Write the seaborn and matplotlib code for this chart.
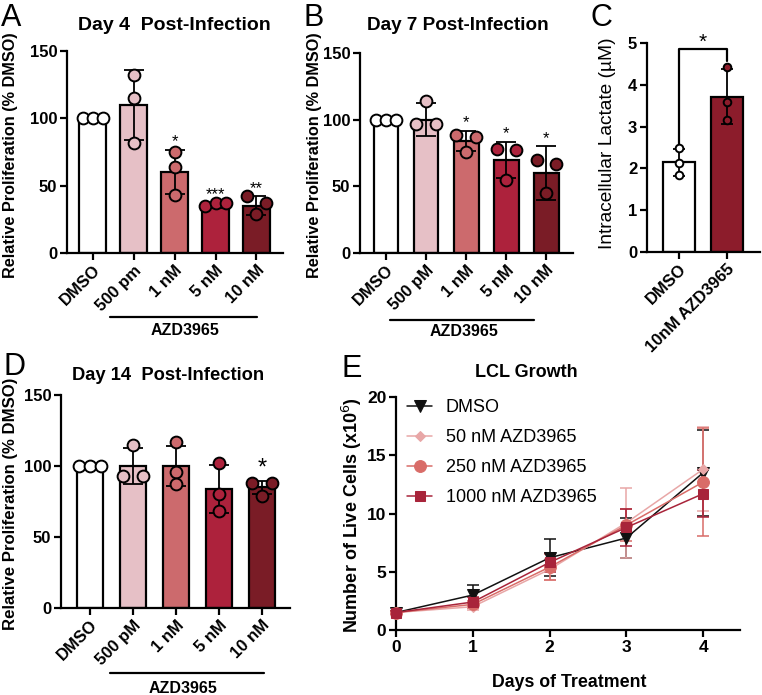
import numpy as np
import pandas as pd
import seaborn as sns
import matplotlib
matplotlib.use("Agg")
import matplotlib.pyplot as plt
import matplotlib.transforms as mtransforms

# ---------------- data ----------------
cats_A = ['DMSO', '500 pm', '1 nM', '5 nM', '10 nM']
mean_A = [100, 110, 60, 35, 35]
sd_A = [np.nan, 26, 16.5, 1.5, 7]
pts_A = [[100, 100, 100], [132, 115, 82], [75, 64, 43], [35, 37, 37], [42, 29, 37]]
sig_A = ['', '', '*', '***', '**']

cats_B = ['DMSO', '500 pM', '1 nM', '5 nM', '10 nM']
mean_B = [100, 100, 84, 70, 60]
sd_B = [np.nan, 12.5, 7.5, 13.5, 20]
pts_B = [[100, 100, 100], [97, 114, 97], [88.5, 76, 87], [78, 55, 77], [70, 45, 67]]
sig_B = ['', '', '*', '*', '*']

cats_C = ['DMSO', '10nM AZD3965']
mean_C = [2.15, 3.72]
sd_C = [0.32, 0.66]
pts_C = [[2.48, 2.12, 1.84], [4.42, 3.58, 3.15]]

cats_D = ['DMSO', '500 pM', '1 nM', '5 nM', '10 nM']
mean_D = [100, 100, 100, 84, 85]
sd_D = [np.nan, 13, 14, 17, 4.5]
pts_D = [[100, 100, 100], [93, 115, 93], [117, 96, 87], [102, 80, 68], [88, 79, 88]]
sig_D = ['', '', '', '', '*']

days = [0, 1, 2, 3, 4]
series_E = ['DMSO', '50 nM AZD3965', '250 nM AZD3965', '1000 nM AZD3965']
mean_E = {
    'DMSO': [1.5, 3.0, 6.2, 7.9, 13.5],
    '50 nM AZD3965': [1.5, 2.0, 5.2, 9.2, 13.8],
    '250 nM AZD3965': [1.5, 2.2, 5.4, 9.0, 12.7],
    '1000 nM AZD3965': [1.5, 2.4, 5.8, 8.8, 11.7],
}
sd_E = {
    'DMSO': [0.1, 0.85, 1.6, 1.75, 3.7],
    '50 nM AZD3965': [0.1, 0.3, 0.9, 3.0, 3.6],
    '250 nM AZD3965': [0.1, 0.3, 1.1, 1.4, 4.6],
    '1000 nM AZD3965': [0.1, 0.4, 0.8, 1.55, 2.0],
}

# ---------------- style ----------------
sns.set_theme(style='ticks')
plt.rcParams['font.family'] = ['Liberation Sans', 'DejaVu Sans']
plt.rcParams['axes.linewidth'] = 1.6
plt.rcParams['text.color'] = 'black'
plt.rcParams['axes.labelcolor'] = 'black'
plt.rcParams['axes.edgecolor'] = 'black'
plt.rcParams['xtick.color'] = 'black'
plt.rcParams['ytick.color'] = 'black'

bar_colors = ['#FFFFFF', '#E6C0C6', '#CC6A6D', '#AD223C', '#7A1C26']
c_colors = ['#FFFFFF', '#8C1C2B']
e_colors = {'DMSO': '#111111', '50 nM AZD3965': '#E8A7A7',
            '250 nM AZD3965': '#D96C68', '1000 nM AZD3965': '#A8243A'}
e_markers = {'DMSO': 'v', '50 nM AZD3965': 'D', '250 nM AZD3965': 'o', '1000 nM AZD3965': 's'}
e_msize = {'DMSO': 8, '50 nM AZD3965': 5.5, '250 nM AZD3965': 8.5, '1000 nM AZD3965': 7.5}

W, H = 762, 695
fig = plt.figure(figsize=(W / 100, H / 100), dpi=100)


def axpx(l, t, r, b):
    return fig.add_axes([l / W, 1 - b / H, (r - l) / W, (b - t) / H])


def style_axes(ax, fs=12):
    sns.despine(ax=ax)
    ax.spines['left'].set_linewidth(1.6)
    ax.spines['bottom'].set_linewidth(1.6)
    ax.spines['left'].set_color('black')
    ax.spines['bottom'].set_color('black')
    ax.tick_params(axis='both', direction='out', length=5, width=1.6,
                   labelsize=fs, pad=2, color='black', labelcolor='black')
    for lab in ax.get_yticklabels() + ax.get_xticklabels():
        lab.set_fontweight('bold')


def swarm_offsets(vals, tol):
    n = len(vals)
    parent = list(range(n))

    def find(i):
        while parent[i] != i:
            i = parent[i]
        return i
    for i in range(n):
        for j in range(i + 1, n):
            if abs(vals[i] - vals[j]) < tol:
                parent[find(j)] = find(i)
    groups = {}
    for i in range(n):
        groups.setdefault(find(i), []).append(i)
    offs = [0.0] * n
    patterns = {1: [0.0], 2: [-0.24, 0.24], 3: [-0.25, 0.0, 0.25]}
    for g in groups.values():
        for k, idx in enumerate(g):
            offs[idx] = patterns[len(g)][k]
    return offs


def bar_panel(ax, cats, means, sds, pts, colors, width, tol, msize, capsize,
              ylim, yticks, sig=None, sigsize=12, sigpad=1.0):
    sns.barplot(x=cats, y=means, hue=cats, palette=colors, legend=False,
                saturation=1, width=width, edgecolor='black', linewidth=1.6,
                errorbar=None, order=cats, hue_order=cats, ax=ax, zorder=2)
    xs = np.arange(len(cats))
    ax.errorbar(xs, means, yerr=sds, fmt='none', ecolor='black', elinewidth=1.3,
                capsize=capsize, capthick=1.3, zorder=3)
    for i, grp in enumerate(pts):
        offs = swarm_offsets(grp, tol)
        ax.plot([i + o for o in offs], grp, linestyle='none', marker='o',
                markersize=msize, markerfacecolor=colors[i], markeredgecolor='black',
                markeredgewidth=1.4, zorder=4, clip_on=False)
    if sig is not None:
        for i, s in enumerate(sig):
            if s:
                top = means[i] + (0 if np.isnan(sds[i]) else sds[i])
                top = max(top, max(pts[i]))
                ax.text(i, top + sigpad, s, ha='center', va='bottom',
                        fontsize=sigsize, color='black')
    ax.set_ylim(*ylim)
    ax.set_yticks(yticks)
    ax.set_xlabel('')
    ax.set_ylabel('')
    ax.set_xticks(xs)
    ax.set_xticklabels(cats, rotation=45, ha='right', rotation_mode='anchor')


def group_label(ax, x0, x1, yline, ytext, xtext, text):
    tr = mtransforms.blended_transform_factory(ax.transData, ax.transAxes)
    ax.plot([x0, x1], [yline, yline], color='black', lw=1.6, transform=tr, clip_on=False)
    ax.text(xtext, ytext, text, transform=tr, ha='center', va='center',
            fontsize=11.5, fontweight='bold')


# ---------------- panel A ----------------
axA = axpx(67, 51, 283, 253)
bar_panel(axA, cats_A, mean_A, sd_A, pts_A, bar_colors, 0.65, 7, 8.5, 7,
          (0, 150), [0, 50, 100, 150], sig_A, 12, 0.5)
axA.set_xlim(-0.63, 4.65)
style_axes(axA, 12)
group_label(axA, 0.41, 4.02, -0.317, -0.386, 2.25, 'AZD3965')

# ---------------- panel B ----------------
axB = axpx(360, 53, 573, 253)
bar_panel(axB, cats_B, mean_B, sd_B, pts_B, bar_colors, 0.62, 7, 8.5, 7,
          (0, 150), [0, 50, 100, 150], sig_B, 12, 0.5)
axB.set_xlim(-0.65, 4.67)
style_axes(axB, 12)
group_label(axB, 0.1, 3.7, -0.335, -0.395, 1.96, 'AZD3965')

# ---------------- panel C ----------------
axC = axpx(647, 43, 760, 252)
bar_panel(axC, cats_C, mean_C, sd_C, pts_C, c_colors, 0.67, 0.15, 5.5, 4,
          (0, 5), [0, 1, 2, 3, 4, 5])
axC.set_xlim(-0.67, 1.69)
style_axes(axC, 12)
axC.plot([0, 0, 1, 1], [2.55, 4.85, 4.85, 4.57], color='black', lw=1.6, clip_on=False)
axC.text(0.5, 4.78, '*', ha='center', va='bottom', fontsize=15)

# ---------------- panel D ----------------
axD = axpx(61, 395, 290, 608)
bar_panel(axD, cats_D, mean_D, sd_D, pts_D, bar_colors, 0.6, 7, 8.5, 7,
          (0, 150), [0, 50, 100, 150], sig_D, 17, 1.0)
axD.set_xlim(-0.67, 4.65)
style_axes(axD, 12)
group_label(axD, 0.47, 4.05, -0.305, -0.376, 2.16, 'AZD3965')

# ---------------- panel E ----------------
axE = axpx(396, 397, 740, 630)
for s in series_E:
    axE.errorbar(days, mean_E[s], yerr=sd_E[s], fmt='none', ecolor=e_colors[s],
                 elinewidth=1.1, capsize=4.5, capthick=1.1, zorder=2, clip_on=False)
for s in series_E:
    sns.lineplot(x=days, y=mean_E[s], color=e_colors[s], marker=e_markers[s],
                 markersize=e_msize[s], markeredgecolor=e_colors[s], linewidth=1.1,
                 errorbar=None, label=s, ax=axE, zorder=3, clip_on=False)
axE.set_xlim(0, 4.48)
axE.set_ylim(0, 20)
axE.set_xticks(days)
axE.set_yticks([0, 5, 10, 15, 20])
axE.set_xlabel('')
axE.set_ylabel('')
style_axes(axE, 12.5)
leg = axE.legend(loc='upper left', bbox_to_anchor=(407 / W, 1 - 399 / H),
                 bbox_transform=fig.transFigure, frameon=False, fontsize=13,
                 handlelength=1.4, handletextpad=0.75, labelspacing=0.72,
                 borderpad=0, borderaxespad=0)
for t in leg.get_texts():
    t.set_color('black')

# ---------------- texts ----------------
def ftext(x, y, s, **kw):
    fig.text(x / W, 1 - y / H, s, color='black', **kw)

for letter, x, y in [('A', 1, 3), ('B', 303, 3), ('C', 591, 3), ('D', 4, 352), ('E', 341, 354)]:
    ftext(x, y, letter, fontsize=22, ha='left', va='top')

ftext(174, 30, 'Day 4  Post-Infection', fontsize=14, fontweight='bold', ha='center', va='baseline')
ftext(458, 30, 'Day 7 Post-Infection', fontsize=13.6, fontweight='bold', ha='center', va='baseline')
ftext(168, 380, 'Day 14  Post-Infection', fontsize=13.2, fontweight='bold', ha='center', va='baseline')
ftext(526, 377, 'LCL Growth', fontsize=13, fontweight='bold', ha='center', va='baseline')

ftext(11, 155, 'Relative Proliferation (% DMSO)', fontsize=11.7, fontweight='bold',
      rotation=90, ha='center', va='center')
ftext(314, 155, 'Relative Proliferation (% DMSO)', fontsize=11.7, fontweight='bold',
      rotation=90, ha='center', va='center')
ftext(11, 504, 'Relative Proliferation (% DMSO)', fontsize=12.1, fontweight='bold',
      rotation=90, ha='center', va='center')
ftext(607, 143, 'Intracellular Lactate (µM)', fontsize=13.8, rotation=90,
      ha='center', va='center')
ftext(352, 515, 'Number of Live Cells (x10$^{6}$)', fontsize=13, fontweight='bold',
      rotation=90, ha='center', va='center')
ftext(569, 687, 'Days of Treatment', fontsize=12.8, fontweight='bold', ha='center', va='baseline')

fig.savefig('out.png', dpi=100)
